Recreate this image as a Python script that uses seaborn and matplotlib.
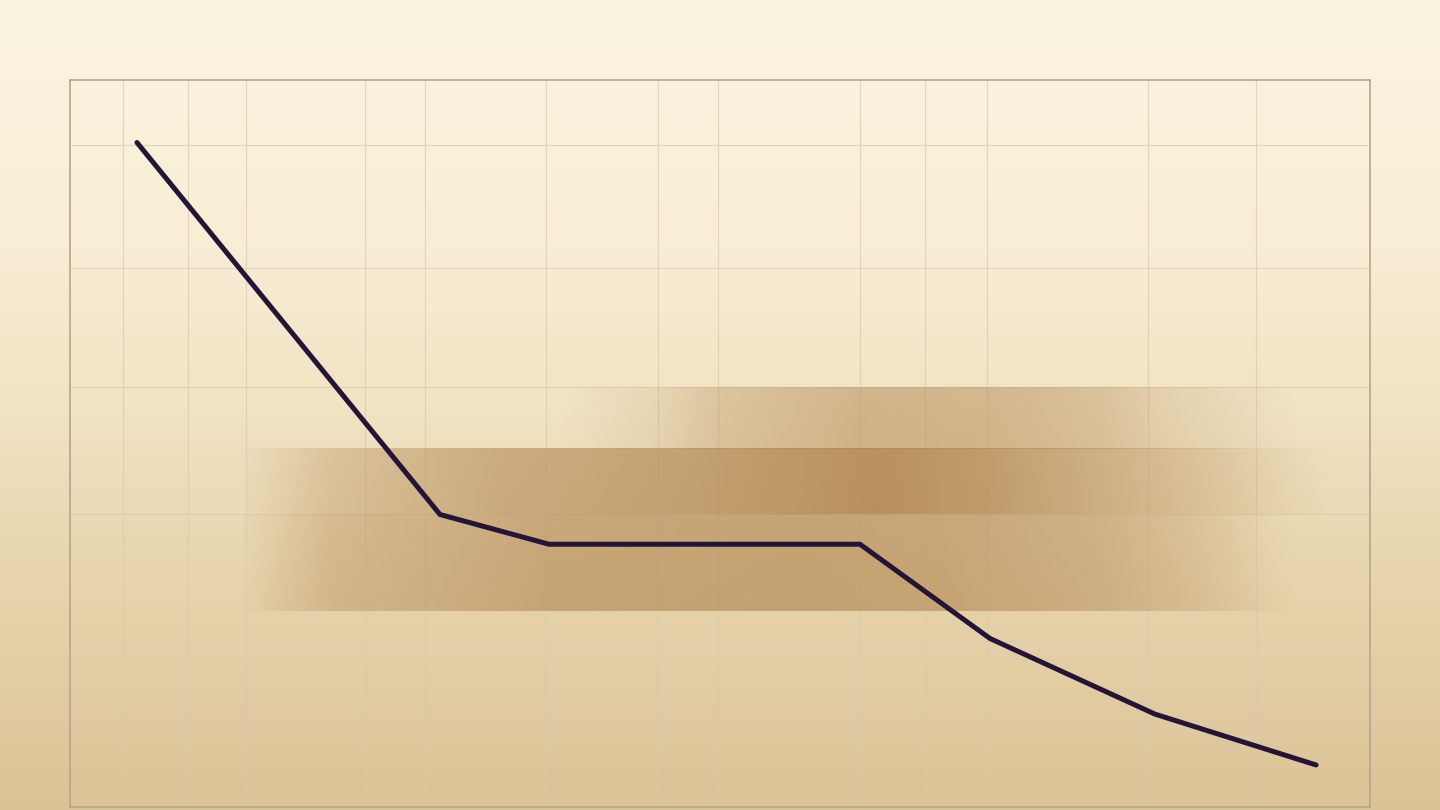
import matplotlib
matplotlib.use("Agg")
import matplotlib.pyplot as plt
from matplotlib.colors import LinearSegmentedColormap, to_rgb
import numpy as np
import pandas as pd
import seaborn as sns

# line series
line_x = [5.15, 28.46, 36.85, 60.77, 70.77, 83.46, 95.85]
line_y = [5.02, 2.02, 1.78, 1.78, 1.02, 0.41, 0.0]

# irregular grid positions
grid_x = [4.08, 9.08, 13.54, 22.69, 27.31, 36.62, 45.23, 49.85,
          60.77, 65.77, 70.54, 82.92, 91.23]
grid_y = [1.0, 2.02, 3.05, 4.01, 5.0]

# shaded bands: (y bottom, y top), anchor x positions and strength
band_rows = [(2.55, 3.05), (2.02, 2.55), (1.24, 2.02)]
band_anchor_x = [
    [37.7, 44.6, 50.0, 60.8, 71.5, 79.2, 83.8, 91.5, 94.6],
    [13.1, 20.0, 33.1, 48.5, 62.3, 71.5, 79.2, 86.9, 94.6, 96.9],
    [13.1, 20.0, 36.9, 56.2, 67.7, 79.2, 86.9, 92.3, 94.6],
]
band_strength = [
    [0.0, 0.12, 0.32, 0.48, 0.45, 0.35, 0.2, 0.05, 0.0],
    [0.0, 0.3, 0.55, 0.68, 0.85, 0.7, 0.5, 0.3, 0.05, 0.0],
    [0.0, 0.35, 0.58, 0.62, 0.58, 0.45, 0.25, 0.05, 0.0],
]

# page gradient, top to bottom
bg_stops = [0.0, 0.3, 0.5, 0.75, 1.0]
bg_colors = ["#fbf4e1", "#f8eed6", "#f1e3c3", "#e6d2aa", "#dcc396"]

band_color = "#af834d"
line_color = "#231537"

sns.set_theme(style="white")

fig = plt.figure(figsize=(14.4, 8.1), dpi=100)

bg = fig.add_axes([0, 0, 1, 1], zorder=0)
bg_cmap = LinearSegmentedColormap.from_list("page", list(zip(bg_stops, bg_colors)))
bg.imshow(np.linspace(0, 1, 256).reshape(-1, 1), aspect="auto", cmap=bg_cmap,
          extent=[0, 1, 0, 1], origin="upper")
bg.set_axis_off()

ax = fig.add_axes([70 / 1440, 3 / 810, 1300 / 1440, 727 / 810], zorder=1)
ax.set_facecolor("none")

# soft horizontal bands
rgb = to_rgb(band_color)
for (y0, y1), xs, vals in zip(band_rows, band_anchor_x, band_strength):
    fine_x = np.linspace(xs[0], xs[-1], 400)
    alpha = np.interp(fine_x, xs, vals)
    img = np.zeros((1, len(fine_x), 4))
    img[0, :, :3] = rgb
    img[0, :, 3] = alpha
    ax.imshow(img, aspect="auto", extent=[xs[0], xs[-1], y0, y1],
              interpolation="bilinear", zorder=1)

df = pd.DataFrame({"x": line_x, "y": line_y})
sns.lineplot(data=df, x="x", y="y", ax=ax, color=line_color, linewidth=3.6,
             solid_capstyle="round", solid_joinstyle="round", zorder=3)

ax.set_xlim(0, 100)
ax.set_ylim(-0.339, 5.524)
ax.set_xticks(grid_x)
ax.set_yticks(grid_y)
ax.set_xticklabels([])
ax.set_yticklabels([])
ax.tick_params(length=0)
ax.set_xlabel("")
ax.set_ylabel("")
ax.grid(True, color="#d6cbb0", linewidth=0.8, alpha=0.7, zorder=0)
ax.set_axisbelow(True)
for s in ax.spines.values():
    s.set_color("#b3a88a")
    s.set_linewidth(1.2)

fig.savefig("out.png", dpi=100)
